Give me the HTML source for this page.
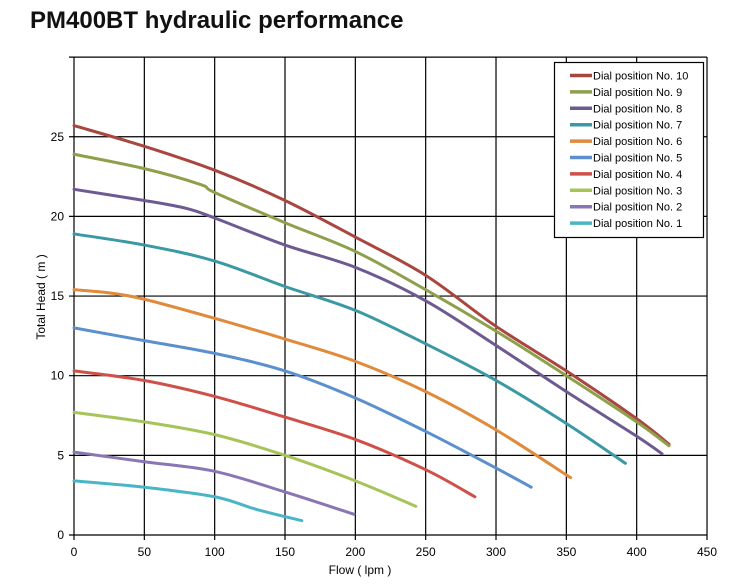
<!DOCTYPE html>
<html><head><style>
body{margin:0;background:#fff;width:749px;height:585px;overflow:hidden}
svg{display:block;font-family:"Liberation Sans",Arial,sans-serif}
</style></head><body>
<svg id="s" width="749" height="585" viewBox="0 0 749 585">
<text x="30" y="28" font-size="24" font-weight="bold" fill="#111">PM400BT hydraulic performance</text>
<g id="grid" stroke="#000" stroke-width="1.2"></g>
<g id="curves" fill="none" stroke-width="3" stroke-linecap="round"></g>
<g id="labels" font-size="12" fill="#000"></g>
<text x="360" y="574" font-size="12" text-anchor="middle">Flow ( lpm )</text>
<text transform="translate(45,297) rotate(-90)" font-size="12" text-anchor="middle">Total Head ( m )</text>
<rect x="554.5" y="62.5" width="149" height="175" fill="#fff" stroke="#000" stroke-width="1.2"/>
<g id="legend" font-size="11"></g>
</svg>
<script>
const X=v=>74+v*1.4067, Y=h=>535-h*15.93;
const ns="http://www.w3.org/2000/svg";
function el(p,t,a,txt){const e=document.createElementNS(ns,t);for(const k in a)e.setAttribute(k,a[k]);if(txt!=null)e.textContent=txt;document.getElementById(p).appendChild(e);}
for(let v=0;v<=450;v+=50){el("grid","line",{x1:X(v),x2:X(v),y1:57,y2:540});el("labels","text",{x:X(v),y:556,"text-anchor":"middle"},v);}
for(let h=0;h<=30;h+=5){el("grid","line",{x1:69,x2:707,y1:Y(h),y2:Y(h)});if(h<30)el("labels","text",{x:64,y:Y(h)+4,"text-anchor":"end"},h);}
const S=[
["#a8463f",[[0,25.7],[50,24.4],[100,22.9],[150,21],[200,18.7],[250,16.3],[300,13.1],[350,10.3],[400,7.3],[423,5.7]]],
["#8ea04c",[[0,23.9],[50,23],[90,22],[100,21.5],[150,19.6],[200,17.8],[250,15.4],[300,12.8],[350,10],[400,7.1],[423,5.6]]],
["#6e5a93",[[0,21.7],[50,21],[80,20.5],[100,19.9],[150,18.2],[200,16.8],[250,14.7],[300,11.9],[350,9],[400,6.2],[418,5.1]]],
["#3b98a5",[[0,18.9],[50,18.2],[100,17.2],[150,15.6],[200,14.1],[250,12],[300,9.7],[350,7],[392,4.5]]],
["#e08a3c",[[0,15.4],[25,15.2],[50,14.8],[100,13.6],[150,12.3],[200,10.9],[250,9],[300,6.6],[353,3.6]]],
["#5b8fcd",[[0,13],[50,12.2],[100,11.4],[150,10.3],[200,8.6],[250,6.5],[300,4.2],[325,3.0]]],
["#cf5048",[[0,10.3],[50,9.7],[100,8.7],[150,7.4],[200,6],[250,4.1],[285,2.4]]],
["#a6c45a",[[0,7.7],[50,7.1],[100,6.3],[150,5],[200,3.4],[243,1.8]]],
["#8a76b2",[[0,5.2],[50,4.6],[100,4],[150,2.7],[199,1.3]]],
["#4bb5c8",[[0,3.4],[50,3],[100,2.4],[130,1.6],[162,0.9]]]];
S.forEach(([c,pts],i)=>{
 const p=pts.map(([a,b])=>[X(a),Y(b)]);
 let d="M"+p[0];
 for(let k=0;k<p.length-1;k++){const p0=p[Math.max(k-1,0)],p1=p[k],p2=p[k+1],p3=p[Math.min(k+2,p.length-1)];
  const c1=[p1[0]+(p2[0]-p0[0])/6,p1[1]+(p2[1]-p0[1])/6],c2=[p2[0]-(p3[0]-p1[0])/6,p2[1]-(p3[1]-p1[1])/6];
  d+="C"+c1+" "+c2+" "+p2;}
 el("curves","path",{d:d,stroke:c});
 const y=75.5+i*16.4;
 el("legend","line",{x1:570,x2:592,y1:y,y2:y,stroke:c,"stroke-width":3.5});
 el("legend","text",{x:593,y:y+4},"Dial position No. "+(10-i));
});
</script>
</body></html>
